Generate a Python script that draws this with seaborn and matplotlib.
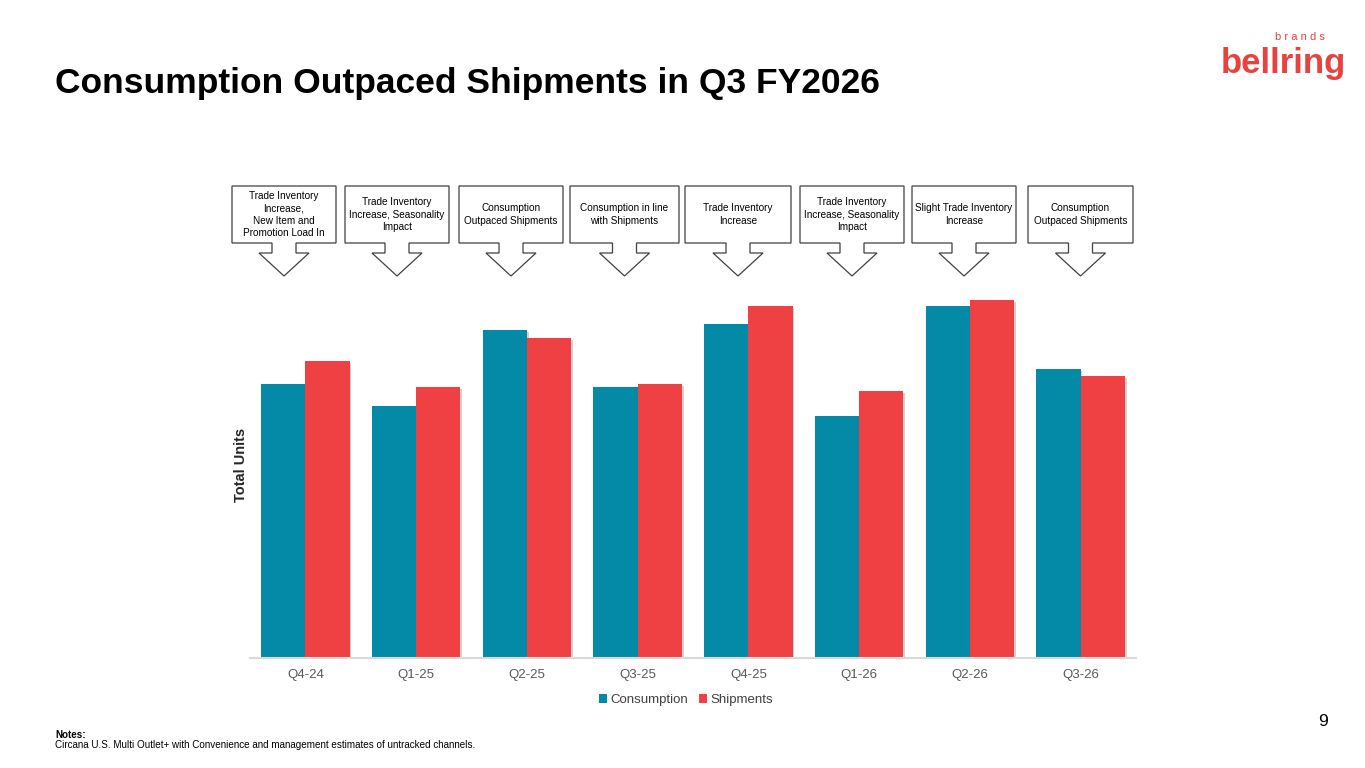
import matplotlib
matplotlib.use("Agg")
import matplotlib.pyplot as plt
import matplotlib.patheffects as pe
from matplotlib.patches import Polygon, Patch
import seaborn as sns
import pandas as pd

# ---- data ----
quarters = ["Q4-24", "Q1-25", "Q2-25", "Q3-25", "Q4-25", "Q1-26", "Q2-26", "Q3-26"]
consumption = [274, 252, 328, 271, 334, 242, 352, 289]
shipments = [297, 271, 320, 274, 352, 267, 358, 282]
series_names = ["Consumption", "Shipments"]
callouts = [
    "Trade Inventory\nIncrease,\nNew Item and\nPromotion Load In",
    "Trade Inventory\nIncrease, Seasonality\nImpact",
    "Consumption\nOutpaced Shipments",
    "Consumption in line\nwith Shipments",
    "Trade Inventory\nIncrease",
    "Trade Inventory\nIncrease, Seasonality\nImpact",
    "Slight Trade Inventory\nIncrease",
    "Consumption\nOutpaced Shipments",
]
box_left_px = [232, 345, 459, 570, 685, 800, 912, 1028]
box_right_px = [336, 449, 563, 679, 791, 904, 1016, 1133]

df = pd.DataFrame({
    "quarter": quarters * 2,
    "series": [series_names[0]] * len(quarters) + [series_names[1]] * len(quarters),
    "value": consumption + shipments,
})

sns.set_theme(style="white")
plt.rcParams["font.family"] = ["Liberation Sans", "DejaVu Sans"]

W, H = 1365, 768
fig = plt.figure(figsize=(W / 100, H / 100), dpi=100)

def fx(px):
    return px / W

def fy(py):
    return 1 - py / H

ax_l, ax_r, ax_b, ax_t = 250, 1136, 658, 258
ax = fig.add_axes([fx(ax_l), fy(ax_b), fx(ax_r) - fx(ax_l), fy(ax_t) - fy(ax_b)])

palette = {"Consumption": "#0489A6", "Shipments": "#EF4044"}
sns.barplot(data=df, x="quarter", y="value", hue="series", palette=palette,
            order=quarters, hue_order=series_names, width=0.8, saturation=1,
            ax=ax, legend=False)
for p in ax.patches:
    p.set_linewidth(0)
    p.set_path_effects([pe.SimplePatchShadow(offset=(1.2, -1.2), shadow_rgbFace="#000000", alpha=0.18), pe.Normal()])

ax.set_xlim(-0.5, len(quarters) - 0.5)
ax.set_ylim(0, 400)
ax.set_yticks([])
ax.set_xlabel("")
ax.set_ylabel("")
for s in ["top", "right", "left"]:
    ax.spines[s].set_visible(False)
ax.spines["bottom"].set_color("#D9D9D9")
ax.spines["bottom"].set_linewidth(1.5)
ax.tick_params(axis="x", length=0, pad=8, labelsize=9.5, labelcolor="#595959")

# legend
handles = [Patch(facecolor=palette[n], edgecolor="none", label=n) for n in series_names]
fig.legend(handles=handles, loc="center", bbox_to_anchor=(fx(686), fy(700)), ncol=2,
           frameon=False, fontsize=9.5, handlelength=0.6, handleheight=0.6,
           handletextpad=0.25, columnspacing=0.8, labelcolor="#404040")

# y label
fig.text(fx(241), fy(465), "Total Units", rotation=90, ha="center", va="center",
         fontsize=10.5, fontweight="bold", color="#262626")

# title
fig.text(fx(55), fy(83), "Consumption Outpaced Shipments in Q3 FY2026", ha="left", va="center",
         fontsize=25.5, fontweight="bold", color="#000000")

# callout boxes with down arrows
top, bot = 186, 243
for i, txt in enumerate(callouts):
    l, r = box_left_px[i], box_right_px[i]
    c = (l + r) / 2
    sw, hw = 12, 25
    shaft_y, tip_y = 253, 276
    pts = [(l, top), (r, top), (r, bot), (c + sw, bot), (c + sw, shaft_y), (c + hw, shaft_y),
           (c, tip_y), (c - hw, shaft_y), (c - sw, shaft_y), (c - sw, bot), (l, bot)]
    poly = Polygon([(fx(x), fy(y)) for x, y in pts], closed=True, transform=fig.transFigure,
                   facecolor="white", edgecolor="#404040", linewidth=0.9)
    fig.add_artist(poly)
    fig.text(fx(c), fy((top + bot) / 2), txt, ha="center", va="center", fontsize=7.2,
             color="#000000", linespacing=1.32)

# notes
fig.text(fx(55), fy(735), "Notes:", fontsize=7.1, fontweight="bold", color="#000000", va="center")
fig.text(fx(55), fy(745), "Circana U.S. Multi Outlet+ with Convenience and management estimates of untracked channels.",
         fontsize=7.1, color="#000000", va="center")

# page number
fig.text(fx(1323), fy(722), "9", fontsize=12.5, color="#000000", ha="center", va="center")

# logo text
fig.text(fx(1283), fy(64), "bellring", fontsize=25, color="#E8423F", ha="center", va="center",
         fontweight="bold")
fig.text(fx(1300), fy(37), "b r a n d s", fontsize=8, color="#E8423F", ha="center", va="center")

fig.savefig("out.png", dpi=100)
